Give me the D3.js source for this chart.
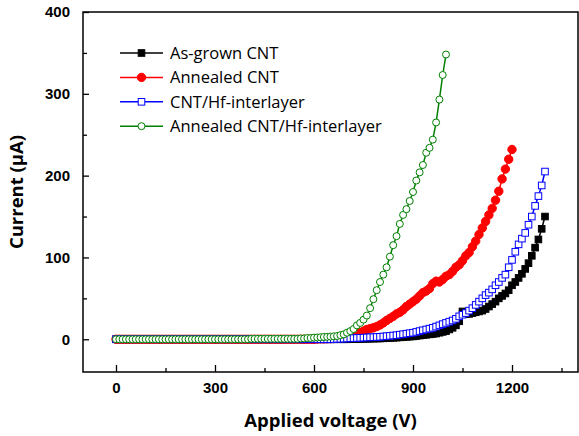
<!DOCTYPE html>
<html>
<head>
<meta charset="utf-8">
<script src="https://cdn.jsdelivr.net/npm/d3@7"></script>
<style>
  body { margin: 0; background: #fff; }
  .tick text { font-family: "Liberation Sans", Arial, sans-serif; font-weight: bold; font-size: 15px; fill: #000; }
  .axis-title { font-family: "Open Sans", "Noto Sans", sans-serif; font-weight: bold; font-size: 18.5px; }
  .legend-text { font-family: "Open Sans", "Noto Sans", sans-serif; font-size: 16.5px; }
</style>
</head>
<body>
<svg id="graph"></svg>
<script>
// sweep voltages (V)
const voltage = [0,10,20,30,40,50,60,70,80,90,100,110,120,130,140,150,160,170,180,190,200,210,220,230,240,250,260,270,280,290,300,310,320,330,340,350,360,370,380,390,400,410,420,430,440,450,460,470,480,490,500,510,520,530,540,550,560,570,580,590,600,610,620,630,640,650,660,670,680,690,700,710,720,730,740,750,760,770,780,790,800,810,820,830,840,850,860,870,880,890,900,910,920,930,940,950,960,970,980,990,1000,1010,1020,1030,1040,1050,1060,1070,1080,1090,1100,1110,1120,1130,1140,1150,1160,1170,1180,1190,1200,1210,1220,1230,1240,1250,1260,1270,1280,1290,1300];

// currents (uA), one value per voltage step
const asGrown = [0,0,0,0,0,0,0,0,0,0,0,0,0,0,0,0,0,0,0,0,0,0,0,0,0,0,0,0,0,0,0,0,0,0,0,0,0,0,0,0,0,0,0,0,0,0,0,0,0,0,0,0,0,0,0,0,0,0,0,0,0,0,0,0,0,0,0,0,0,0,0,
  0.1,0.2,0.3,0.4,0.5,0.6,0.7,0.8,0.9,1,1.2,1.4,1.6,1.8,2,2.3,2.6,2.9,3.2,3.5,4,4.5,5,5.5,6,6.5,7,8,9,10,
  12,14,17,22,34,31,31,32,33,34,35,37,40,43,46,50,53,56,60,66,70,75,80,86,93,102,112,122,135,150];
const annealed = [0,0,0,0,0,0,0,0,0,0,0,0,0,0,0,0,0,0,0,0,0,0,0,0,0,0,0,0,0,0,0,0,0,0,0,0,0,0,0,0,0,0,0,0,0,0,0,0,0,0,0,0,0,0,0,0,0,0,0,0,0,
  0.3,0.5,0.5,0.7,0.8,
  1,1.5,2,2.5,3.5,4.5,5.5,6.5,8,10,12,13,14,15.5,17.5,20,23,25.5,28,31,33,36,40,43,46,49,53,57,59,62,68,71,70,73,77,
  79,83,88,91,96,102,106,113,120,128,136,144,152,160,170,181,196,208,220,232];
const hfLayer = [0,0,0,0,0,0,0,0,0,0,0,0,0,0,0,0,0,0,0,0,0,0,0,0,0,0,0,0,0,0,0,0,0,0,0,0,0,0,0,0,0,0,0,0,0,0,0,0,0,0,0,0,0,0,0,0,0,0,0,0,0,0,0,0,0,0,
  0.3,0.5,0.6,0.8,1,1.2,1.4,1.6,1.8,2,2.2,2.4,2.6,2.8,3,3.4,3.8,4.2,4.6,5,5.6,6.2,6.8,7.4,8,9,10,11,12,13,
  14,15.5,17,18.5,20,21.5,23,25,28,30,32,35,38,42,46,50,54,57,61,66,70,75,79,88,97,107,116,123,130,140,150,163,175,188,205];
const annealedHf = [0,0,0,0,0,0,0,0,0,0,0,0,0,0,0,0,0,0,0,0,0,0,0,0,0,0,0,0,0,0,0,0,0,0,0,0,0,0,0,0,0,
  0.5,0.5,0.5,0.5,0.5,0.5,0.5,0.5,0.5,0.5,0.5,0.5,0.5,0.5,0.5,
  1,1,1.5,1.5,2,2.2,2.5,2.8,3,3.3,3.6,4,5,6,8,10,12.5,17,20,24,29,38,49,60,70,79,88,101,115,126,141,152,159,169,180,194,204,213,228,234,244,265,293,323,348];

const seriesNames = ["As-grown CNT", "Annealed CNT", "CNT/Hf-interlayer", "Annealed CNT/Hf-interlayer"];
const seriesValues = [asGrown, annealed, hfLayer, annealedHf];
const xTicks = [0, 300, 600, 900, 1200];
const yTicks = [0, 100, 200, 300, 400];

const width = 579, height = 436;
const margin = { top: 12, right: 1, bottom: 64, left: 83 };

const styles = [
  { color: "#000000", shape: "square", fill: "#000000" },
  { color: "#ff0000", shape: "circle", fill: "#ff0000" },
  { color: "#0000ff", shape: "square", fill: "#ffffff" },
  { color: "#008000", shape: "circle", fill: "#ffffff" }
];

const svg = d3.select("#graph").attr("width", width).attr("height", height);

const x = d3.scaleLinear().domain([-100, 1400]).range([margin.left, width - margin.right]);
const y = d3.scaleLinear().domain([-40, 400]).range([height - margin.bottom, margin.top]);

// minor ticks
svg.append("g")
  .attr("transform", `translate(0,${y(-40)})`)
  .call(d3.axisBottom(x).tickValues([150, 450, 750, 1050, 1350]).tickSize(-4).tickFormat(""))
  .call(g => g.select(".domain").remove());
svg.append("g")
  .attr("transform", `translate(${x(-100)},0)`)
  .call(d3.axisLeft(y).tickValues([50, 150, 250, 350]).tickSize(-4).tickFormat(""))
  .call(g => g.select(".domain").remove());

// major ticks
svg.append("g")
  .attr("class", "axis")
  .attr("transform", `translate(0,${y(-40)})`)
  .call(d3.axisBottom(x).tickValues(xTicks).tickSize(-7).tickPadding(10).tickFormat(d3.format("d")))
  .call(g => g.select(".domain").remove());
svg.append("g")
  .attr("class", "axis")
  .attr("transform", `translate(${x(-100)},0)`)
  .call(d3.axisLeft(y).tickValues(yTicks).tickSize(-6).tickPadding(13).tickFormat(d3.format("d")))
  .call(g => g.select(".domain").remove());

svg.selectAll(".tick line").attr("stroke", "#000").attr("stroke-width", 1.3);

// frame
svg.append("rect")
  .attr("x", x(-100)).attr("y", y(400))
  .attr("width", x(1400) - x(-100)).attr("height", y(-40) - y(400))
  .attr("fill", "none").attr("stroke", "#000").attr("stroke-width", 1.5);

const line = d3.line().x(d => x(d.v)).y(d => y(d.i));

function drawMarker(g, s, cx, cy) {
  if (s.shape === "square") {
    g.append("rect")
      .attr("x", cx - 3.3).attr("y", cy - 3.3).attr("width", 6.6).attr("height", 6.6)
      .attr("fill", s.fill).attr("stroke", s.color).attr("stroke-width", 1);
  } else {
    g.append("circle")
      .attr("cx", cx).attr("cy", cy).attr("r", s.fill === "#ffffff" ? 3.5 : 4.2)
      .attr("fill", s.fill).attr("stroke", s.color).attr("stroke-width", 1);
  }
}

seriesValues.forEach((vals, k) => {
  const s = styles[k];
  const pts = vals.map((c, j) => ({ v: voltage[j], i: c }));
  const g = svg.append("g");
  g.append("path").datum(pts)
    .attr("d", line).attr("fill", "none")
    .attr("stroke", s.color).attr("stroke-width", 1.5);
  pts.forEach(p => drawMarker(g, s, x(p.v), y(p.i)));
});

// legend
const legend = svg.append("g");
seriesNames.forEach((name, k) => {
  const s = styles[k];
  const ly = 53 + k * 24.4;
  legend.append("line")
    .attr("x1", 120).attr("x2", 163).attr("y1", ly).attr("y2", ly)
    .attr("stroke", s.color).attr("stroke-width", 1.5);
  drawMarker(legend, s, 141.5, ly);
  legend.append("text")
    .attr("class", "legend-text")
    .attr("x", 170).attr("y", ly).attr("dy", "0.35em")
    .text(name);
});

svg.append("text")
  .attr("class", "axis-title")
  .attr("x", (x(-100) + x(1400)) / 2)
  .attr("y", 427)
  .attr("text-anchor", "middle")
  .text("Applied voltage (V)");

svg.append("text")
  .attr("class", "axis-title")
  .attr("transform", `translate(23,${(y(400) + y(-40)) / 2}) rotate(-90)`)
  .attr("text-anchor", "middle")
  .text("Current (μA)");
</script>
</body>
</html>
